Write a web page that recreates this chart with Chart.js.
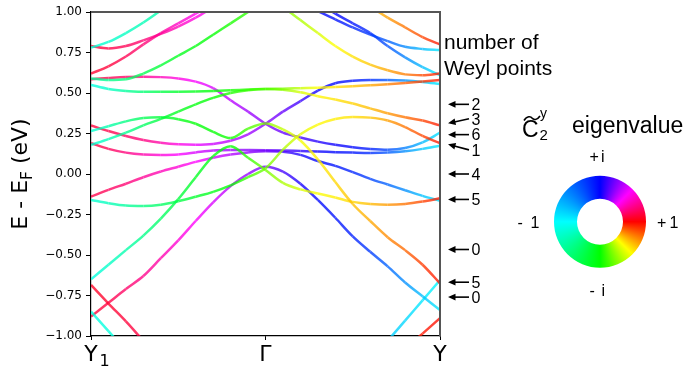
<!DOCTYPE html>
<html><head><meta charset="utf-8">
<script src="https://cdn.jsdelivr.net/npm/chart.js@4.4.1/dist/chart.umd.min.js"></script>
<style>html,body{margin:0;padding:0;background:#fff;overflow:hidden}canvas{display:block}</style>
</head><body>
<canvas id="c" width="687" height="367"></canvas>
<script>
// k-path positions: 0 = Y1, 1 = Gamma, 2 = Y
const K = [0,0.1,0.2,0.3,0.4,0.5,0.6,0.7,0.8,0.9,1.0,1.1,1.2,1.3,1.4,1.5,1.6,1.7,1.8,1.9,2.0];
const xTickValues = [0, 1, 2];
const xTickLabels = ['Y', '\u0393', 'Y'];

// band energies (eV) and C2y eigenvalue phases (deg) along K
const eL1 = [0.78,0.815,0.87,0.935,1.01,1.09];
const pL1 = [195,198,202,206,210,214];
const eL2 = [0.79,0.775,0.79,0.825,0.865,0.91,0.965,1.03,1.1];
const pL2 = [10,12,15,20,26,33,40,45,48];
const eL3 = [0.62,0.665,0.725,0.80,0.87,0.93,0.99,1.05,1.12];
const pL3 = [8,10,14,20,27,35,42,46,48];
const eL4 = [0.59,0.58,0.585,0.62,0.67,0.73,0.79,0.86,0.93,1.0,1.07];
const pL4 = [212,220,230,242,252,260,265,270,274,278,280];
const eL5 = [-0.685,-0.80,-0.91,-1.03,-1.15];
const pL5 = [6,8,10,12,14];
const eL6 = [-0.85,-0.97,-1.09];
const pL6 = [190,192,194];

const eB5 = [0.585,0.592,0.598,0.60,0.598,0.59,0.57,0.53,0.455,0.385,0.31,0.255,0.225,0.20,0.18,0.165,0.155,0.15,0.16,0.195,0.255];
const pB5 = [10,14,18,24,32,40,46,52,57,62,66,72,78,84,88,92,100,115,135,155,170];
const eBA = [0.30,0.265,0.235,0.21,0.193,0.183,0.18,0.185,0.205,0.245,0.31,0.385,0.45,0.515,0.56,0.575,0.58,0.58,0.577,0.568,0.555];
const pBA = [10,13,17,22,30,40,48,54,58,62,66,72,80,88,92,96,105,120,140,160,172];
const eFL = [0.55,0.525,0.513,0.508,0.507,0.508,0.51,0.513,0.517,0.521,0.525,0.527,0.53,0.533,0.537,0.542,0.548,0.554,0.562,0.571,0.58];
const pFL = [190,200,215,230,245,255,262,268,273,278,283,292,305,315,320,325,330,337,343,350,356];
const eBC = [0.18,0.215,0.255,0.30,0.34,0.385,0.43,0.47,0.50,0.517,0.525,0.52,0.505,0.48,0.46,0.435,0.405,0.375,0.35,0.33,0.30];
const pBC = [195,205,220,235,250,260,266,270,275,280,285,295,308,316,320,323,327,333,340,348,356];
const eBB = [0.265,0.295,0.325,0.345,0.35,0.338,0.31,0.26,0.222,0.28,0.312,0.275,0.207,0.09,-0.05,-0.185,-0.29,-0.39,-0.47,-0.56,-0.675];
const pBB = [195,210,225,240,252,262,268,270,272,282,292,305,313,318,322,326,330,336,342,350,357];
const eBD = [0.19,0.155,0.132,0.12,0.117,0.12,0.133,0.145,0.148,0.148,0.147,0.145,0.142,0.139,0.135,0.132,0.13,0.132,0.14,0.155,0.175];
const pBD = [10,15,22,30,38,45,52,58,62,66,70,76,82,88,92,96,105,120,140,160,172];
const eBE = [-0.14,-0.098,-0.06,-0.02,0.015,0.045,0.075,0.10,0.12,0.133,0.14,0.137,0.118,0.08,0.05,0.012,-0.03,-0.065,-0.10,-0.135,-0.165];
const pBE = [12,16,20,26,32,38,45,52,58,64,70,78,86,92,96,102,112,125,140,158,170];
const eBG = [-0.16,-0.18,-0.195,-0.198,-0.19,-0.168,-0.14,-0.11,-0.07,-0.02,0.035,0.15,0.245,0.305,0.34,0.352,0.348,0.33,0.29,0.235,0.19];
const pBG = [195,205,215,225,235,245,255,262,270,280,290,300,310,316,318,320,325,332,340,348,357];
const eBF = [-0.65,-0.56,-0.47,-0.38,-0.275,-0.155,-0.02,0.11,0.172,0.10,0.025,-0.055,-0.095,-0.12,-0.145,-0.172,-0.185,-0.19,-0.185,-0.17,-0.15];
const pBF = [190,200,210,222,235,248,258,265,270,278,290,300,308,314,318,322,327,333,340,348,357];
const eBH = [-0.88,-0.795,-0.71,-0.63,-0.52,-0.41,-0.29,-0.175,-0.075,0.0,0.045,0.015,-0.06,-0.16,-0.27,-0.385,-0.48,-0.57,-0.67,-0.755,-0.84];
const pBH = [8,12,18,24,30,38,45,52,58,64,70,78,86,92,96,100,110,125,140,158,172];

const eR1 = [null,null,null,null,null,null,null,null,null,null,1.1,1.03,0.95,0.87,0.79,0.725,0.675,0.64,0.615,0.61,0.62];
const pR1 = [null,null,null,null,null,null,null,null,null,null,288,292,300,308,315,320,325,331,338,347,356];
const eR2 = [null,null,null,null,null,null,null,null,null,null,null,1.12,1.06,1.005,0.955,0.905,0.86,0.82,0.785,0.772,0.765];
const pR2 = [null,null,null,null,null,null,null,null,null,null,null,84,86,90,95,102,110,122,138,156,172];
const eR3 = [null,null,null,null,null,null,null,null,null,null,null,null,1.13,1.06,0.99,0.93,0.87,0.79,0.72,0.66,0.61];
const pR3 = [null,null,null,null,null,null,null,null,null,null,null,null,82,86,90,96,105,118,136,156,176];
const eR4 = [null,null,null,null,null,null,null,null,null,null,null,null,null,null,null,1.11,1.035,0.965,0.905,0.845,0.80];
const pR4 = [null,null,null,null,null,null,null,null,null,null,null,null,null,null,null,322,326,332,340,348,357];
const eR5 = [null,null,null,null,null,null,null,null,null,null,null,null,null,null,null,null,-1.16,-1.03,-0.905,-0.78,-0.655];
const pR5 = [null,null,null,null,null,null,null,null,null,null,null,null,null,null,null,null,158,162,166,172,178];
const eR6 = [null,null,null,null,null,null,null,null,null,null,null,null,null,null,null,null,null,null,-1.08,-0.985,-0.89];
const pR6 = [null,null,null,null,null,null,null,null,null,null,null,null,null,null,null,null,null,null,354,356,358];

// Weyl-point annotations
const weylE = [0.43,0.313,0.243,0.183,0.0,-0.157,-0.466,-0.668,-0.76];
const weylCount = ['2','3','6','1','4','5','0','5','0'];

const bands = [
  [eL1,pL1],[eL2,pL2],[eL3,pL3],[eL4,pL4],[eL5,pL5],[eL6,pL6],
  [eFL,pFL],[eBC,pBC],[eBB,pBB],[eBG,pBG],[eBF,pBF],
  [eB5,pB5],[eBA,pBA],[eBD,pBD],[eBE,pBE],[eBH,pBH],
  [eR1,pR1],[eR2,pR2],[eR3,pR3],[eR4,pR4],[eR5,pR5],[eR6,pR6]
];

function phaseColor(th, alpha){
  th = ((th % 360) + 360) % 360;
  let h;
  if (th <= 90) h = 360 - th * 4 / 3;
  else if (th <= 180) h = 240 - (th - 90) * 2 / 3;
  else if (th <= 270) h = 180 - (th - 180) * 2 / 3;
  else h = 120 - (th - 270) * 4 / 3;
  return 'hsla(' + h.toFixed(1) + ',100%,50%,' + alpha + ')';
}
const LINE_ALPHA = 0.78;

const datasets = bands.map(([e, p]) => ({
  data: e.map((v, i) => ({x: K[i], y: v})),
  borderWidth: 2.5,
  pointRadius: 0,
  pointHoverRadius: 0,
  fill: false,
  clip: 0,
  cubicInterpolationMode: 'monotone',
  borderColor: phaseColor(p.find(v => v != null), LINE_ALPHA),
  segment: {
    borderColor: c => {
      const g = c.chart.ctx.createLinearGradient(c.p0.x, c.p0.y, c.p1.x, c.p1.y);
      g.addColorStop(0, phaseColor(p[c.p0DataIndex], LINE_ALPHA));
      g.addColorStop(1, phaseColor(p[c.p1DataIndex], LINE_ALPHA));
      return g;
    }
  }
}));

function drawArrow(ctx, tx, ty, hx, hy){
  const dx = hx - tx, dy = hy - ty, L = Math.hypot(dx, dy);
  const ux = dx / L, uy = dy / L, hl = 7.5, hw = 3.4;
  const bx = hx - ux * hl, by = hy - uy * hl;
  ctx.lineWidth = 1.6; ctx.strokeStyle = '#000'; ctx.fillStyle = '#000';
  ctx.beginPath(); ctx.moveTo(tx, ty); ctx.lineTo(bx + ux, by + uy); ctx.stroke();
  ctx.beginPath(); ctx.moveTo(hx, hy);
  ctx.lineTo(bx - uy * hw, by + ux * hw);
  ctx.lineTo(bx + uy * hw, by - ux * hw);
  ctx.closePath(); ctx.fill();
}

const overlay = {
  id: 'overlay',
  afterDraw(chart){
    const ctx = chart.ctx, a = chart.chartArea, ys = chart.scales.y, xs = chart.scales.x;
    ctx.save();
    // top/right spines
    ctx.strokeStyle = '#555'; ctx.lineWidth = 2;
    ctx.beginPath(); ctx.moveTo(a.left, a.top); ctx.lineTo(a.right, a.top); ctx.lineTo(a.right, a.bottom + 0.5); ctx.stroke();

    // subscript of Y1
    ctx.fillStyle = '#000'; ctx.textAlign = 'left'; ctx.textBaseline = 'alphabetic';
    ctx.font = '16px "DejaVu Sans"';
    ctx.fillText('1', xs.getPixelForValue(xTickValues[0]) + 8.5, 366);

    // y-axis title
    ctx.save();
    ctx.translate(19, (a.top + a.bottom) / 2);
    ctx.rotate(-Math.PI / 2);
    const big = '22px "DejaVu Sans"', small = '15.5px "DejaVu Sans"';
    ctx.font = big; const w1 = ctx.measureText('E - E').width; const w3 = ctx.measureText(' (eV)').width;
    ctx.font = small; const w2 = ctx.measureText('F').width;
    let x0 = -(w1 + w2 + w3) / 2;
    ctx.font = big; ctx.fillText('E - E', x0, 8);
    ctx.font = small; ctx.fillText('F', x0 + w1, 12.5);
    ctx.font = big; ctx.fillText(' (eV)', x0 + w1 + w2, 8);
    ctx.restore();

    // Weyl point annotations
    ctx.font = '21px "Liberation Sans"';
    ctx.fillText('number of', 444, 48.5);
    ctx.fillText('Weyl points', 444, 75);
    const tailDy = [0, -4.5, 0, 5.5, 0, 0, 0, 0, 0];
    ctx.font = '16px "Liberation Sans"';
    weylE.forEach((e, i) => {
      const yh = ys.getPixelForValue(e), yt = yh + tailDy[i];
      drawArrow(ctx, 469, yt, 448, yh);
      ctx.fillText(weylCount[i], 471.5, yt + 5.8);
    });

    // eigenvalue colour wheel
    const cx = 600, cy = 221.7, R = 46, r = 23;
    const g = ctx.createConicGradient(0, cx, cy);
    for (let d = 0; d <= 360; d += 5) g.addColorStop(d / 360, phaseColor(360 - d, 1));
    ctx.fillStyle = g;
    ctx.beginPath(); ctx.arc(cx, cy, R, 0, 2 * Math.PI); ctx.arc(cx, cy, r, 0, 2 * Math.PI, true); ctx.fill();

    ctx.fillStyle = '#000';
    ctx.font = '16px "Liberation Sans"';
    ctx.fillText('+', 589.5, 161.5); ctx.fillText('i', 601, 161.5);
    ctx.fillText('-', 589.5, 296); ctx.fillText('i', 601.5, 296);
    ctx.fillText('-', 517.5, 228.3); ctx.fillText('1', 530.5, 228.3);
    ctx.fillText('+', 657, 228.3); ctx.fillText('1', 669.5, 228.3);

    // C2y label
    ctx.font = '23px "Liberation Sans"';
    ctx.fillText('C', 522, 136.7);
    ctx.font = '14px "Liberation Sans"';
    ctx.fillText('y', 540, 118);
    ctx.font = '15px "Liberation Sans"';
    ctx.fillText('2', 539.5, 140);
    ctx.lineWidth = 1.6; ctx.strokeStyle = '#000';
    ctx.beginPath();
    ctx.moveTo(524, 120.5);
    ctx.bezierCurveTo(527, 115.5, 531, 116.5, 532, 118);
    ctx.bezierCurveTo(533.5, 120, 537, 120.5, 540, 116);
    ctx.stroke();
    ctx.font = '23px "Liberation Sans"';
    ctx.fillText('eigenvalue', 572, 133.3);
    ctx.restore();
  }
};

new Chart(document.getElementById('c'), {
  type: 'line',
  data: { datasets },
  options: {
    responsive: false,
    maintainAspectRatio: false,
    devicePixelRatio: 1,
    animation: false,
    events: [],
    layout: { padding: { top: 12, right: 247, left: 0, bottom: 0 } },
    plugins: { legend: { display: false }, tooltip: { enabled: false } },
    scales: {
      x: {
        type: 'linear', min: 0, max: 2,
        afterBuildTicks: s => { s.ticks = xTickValues.map(v => ({ value: v })); },
        afterFit: s => { s.height = 31; },
        ticks: {
          autoSkip: false, maxRotation: 0, padding: 2,
          color: '#000', font: { family: 'DejaVu Sans', size: 22 },
          callback: (v, i) => xTickLabels[i]
        },
        grid: { drawOnChartArea: false, drawTicks: true, tickLength: 4, tickColor: '#000', color: '#000' },
        border: { display: true, color: '#000', width: 1.2 }
      },
      y: {
        type: 'linear', min: -1, max: 1,
        afterFit: s => { s.width = 91; },
        ticks: {
          stepSize: 0.25, padding: 4, color: '#000',
          font: { family: 'DejaVu Sans', size: 12 },
          callback: v => (v < 0 ? '\u2212' : '') + Math.abs(v).toFixed(2)
        },
        grid: { drawOnChartArea: false, drawTicks: true, tickLength: 5, tickColor: '#000', color: '#000' },
        border: { display: true, color: '#000', width: 1.2 }
      }
    }
  },
  plugins: [overlay]
});
</script>
</body></html>
